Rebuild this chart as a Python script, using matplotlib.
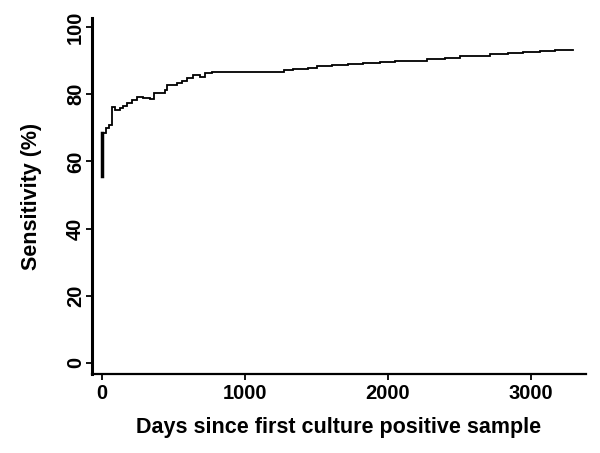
import matplotlib
matplotlib.use("Agg")
import matplotlib.pyplot as plt

plt.rcParams['font.family'] = ['Liberation Sans', 'DejaVu Sans']

days = [0, 2, 25, 50, 68, 90, 125, 150, 172, 207, 242, 289, 336, 364, 440, 452,
        522, 557, 592, 639, 685, 720, 767, 1273, 1338, 1443, 1506, 1606, 1723,
        1827, 1944, 2049, 2270, 2399, 2503, 2713, 2841, 2946, 3063, 3168, 3296]
sensitivity = [55.7, 68.5, 69.8, 70.8, 76.1, 75.2, 75.8, 76.5, 77.3, 78.3, 79.1,
               78.8, 78.6, 80.4, 81.2, 82.7, 83.2, 84.0, 84.7, 85.6, 85.2, 86.3,
               86.7, 87.1, 87.4, 87.9, 88.4, 88.8, 89.0, 89.4, 89.7, 90.0, 90.6,
               90.9, 91.4, 91.9, 92.3, 92.7, 92.9, 93.2, 93.2]
xticks = [0, 1000, 2000, 3000]
yticks = [0, 20, 40, 60, 80, 100]

fig = plt.figure(figsize=(6.0, 4.53), dpi=100)
ax = fig.add_axes([92/600, 1-374/453, 494/600, 356/453])

ax.step(days, sensitivity, where='post', color='black', lw=1.3, solid_joinstyle='miter')
ax.plot([0, 0], [55.7, 68.5], color='black', lw=2.5)

ax.set_xlim(-70, 3385)
ax.set_ylim(-3.3, 102.7)
ax.set_xticks(xticks)
ax.set_yticks(yticks)

for s in ['top', 'right']:
    ax.spines[s].set_visible(False)
ax.spines['left'].set_linewidth(2.2)
ax.spines['bottom'].set_linewidth(1.6)

ax.tick_params(axis='x', direction='out', length=4, width=1.3, pad=3.0, labelsize=14.5)
ax.tick_params(axis='y', direction='out', length=4, width=1.3, pad=1.0, labelsize=14.5)
for lab in ax.get_xticklabels() + ax.get_yticklabels():
    lab.set_fontweight('bold')
for lab in ax.get_yticklabels():
    lab.set_rotation(90)
    lab.set_va('center')

ax.set_xlabel('Days since first culture positive sample', fontsize=15.5, fontweight='bold')
ax.set_ylabel('Sensitivity (%)', fontsize=15.5, fontweight='bold')
ax.xaxis.set_label_coords(0.5, (374-428)/356)
ax.xaxis.label.set_va('center')
ax.yaxis.set_label_coords((32-92)/494, 0.5)
ax.yaxis.label.set_va('center')

fig.savefig('out.png', dpi=100)
